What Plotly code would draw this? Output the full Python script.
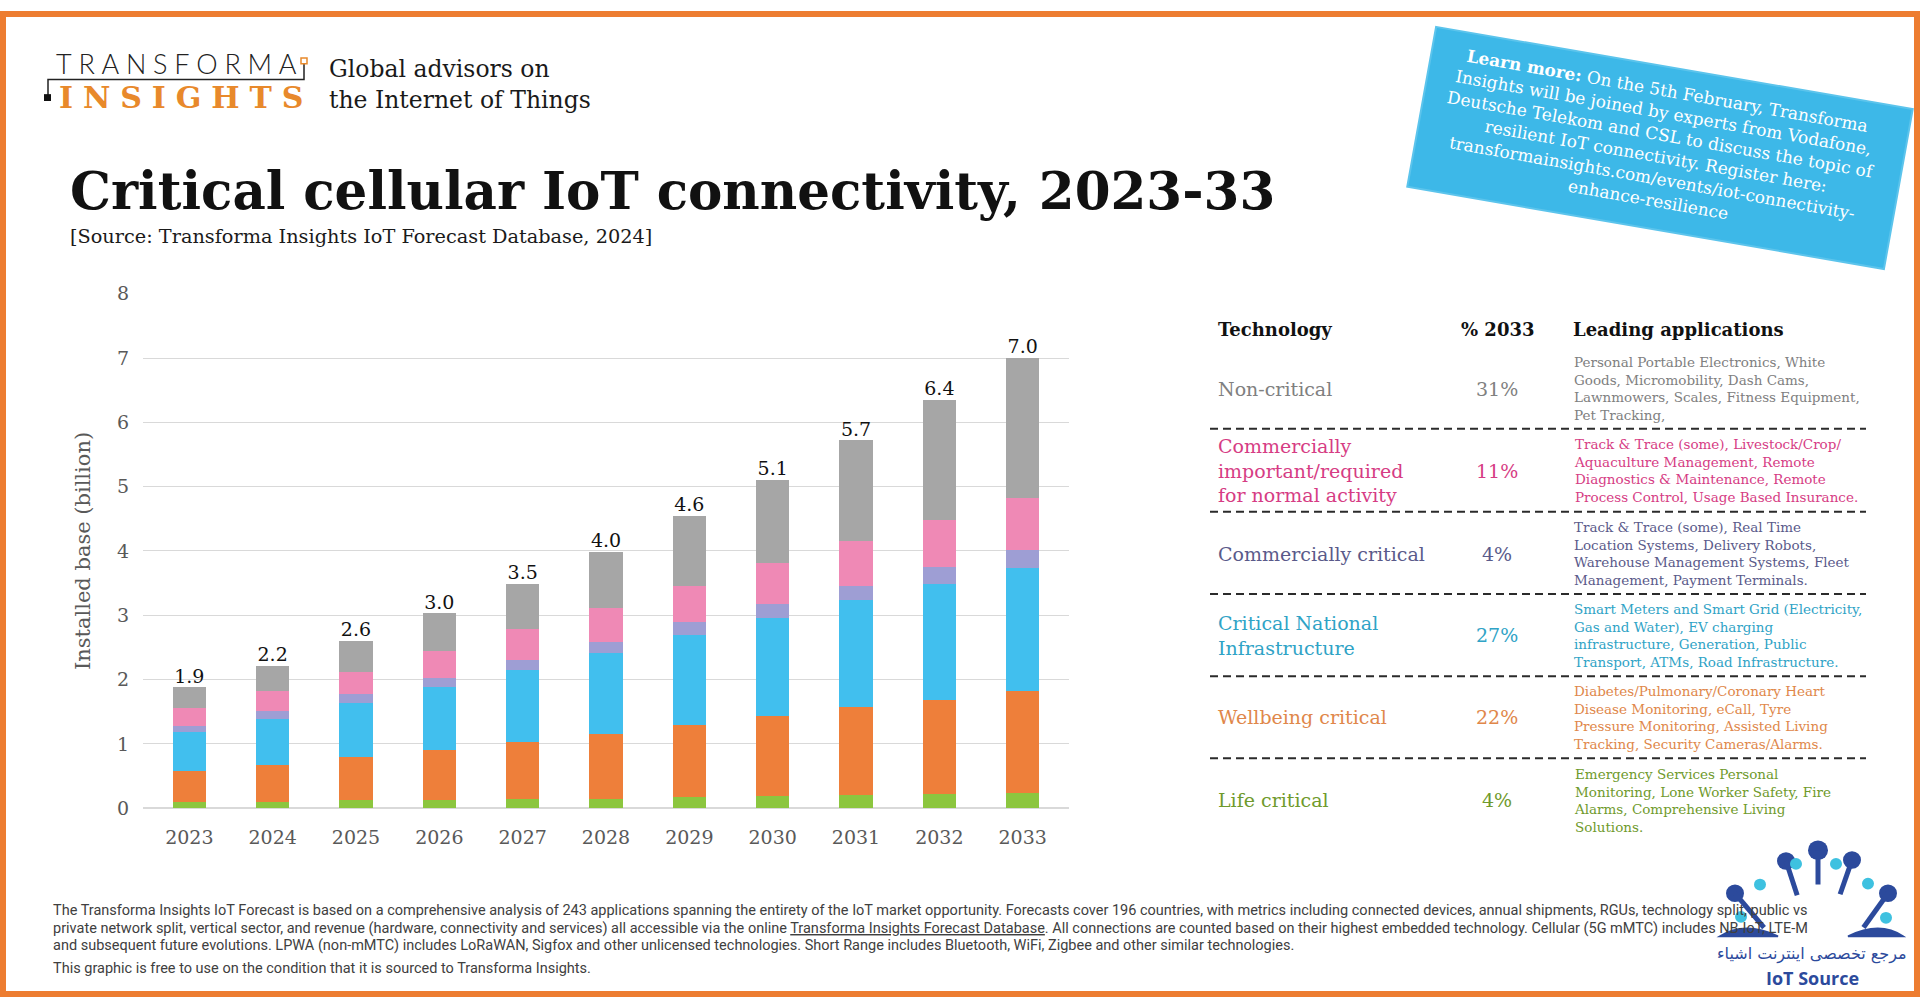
import math
import plotly.graph_objects as go

# ---------------- data ----------------
years = ["2023", "2024", "2025", "2026", "2027", "2028", "2029", "2030", "2031", "2032", "2033"]
life_critical = [0.09, 0.10, 0.12, 0.13, 0.14, 0.15, 0.17, 0.19, 0.20, 0.22, 0.24]
wellbeing_critical = [0.49, 0.57, 0.67, 0.78, 0.89, 1.01, 1.12, 1.24, 1.37, 1.47, 1.58]
critical_national_infra = [0.60, 0.72, 0.85, 0.98, 1.12, 1.26, 1.40, 1.53, 1.66, 1.80, 1.91]
commercially_critical = [0.10, 0.12, 0.13, 0.14, 0.16, 0.17, 0.20, 0.22, 0.23, 0.26, 0.28]
commercially_important = [0.28, 0.32, 0.35, 0.41, 0.47, 0.52, 0.57, 0.63, 0.69, 0.73, 0.81]
non_critical = [0.32, 0.38, 0.48, 0.59, 0.71, 0.88, 1.09, 1.30, 1.57, 1.87, 2.18]
total_labels = ["1.9", "2.2", "2.6", "3.0", "3.5", "4.0", "4.6", "5.1", "5.7", "6.4", "7.0"]
y_ticks = [0, 1, 2, 3, 4, 5, 6, 7, 8]

table_tech = ["Non-critical", "Commercially<br>important/required<br>for normal activity",
              "Commercially critical", "Critical National<br>Infrastructure",
              "Wellbeing critical", "Life critical"]
table_pct = ["31%", "11%", "4%", "27%", "22%", "4%"]
table_apps = [
    "Personal Portable Electronics, White<br>Goods, Micromobility, Dash Cams,<br>Lawnmowers, Scales, Fitness Equipment,<br>Pet Tracking,",
    "Track &amp; Trace (some), Livestock/Crop/<br>Aquaculture Management, Remote<br>Diagnostics &amp; Maintenance, Remote<br>Process Control, Usage Based Insurance.",
    "Track &amp; Trace (some), Real Time<br>Location Systems, Delivery Robots,<br>Warehouse Management Systems, Fleet<br>Management, Payment Terminals.",
    "Smart Meters and Smart Grid (Electricity,<br>Gas and Water), EV charging<br>infrastructure, Generation, Public<br>Transport, ATMs, Road Infrastructure.",
    "Diabetes/Pulmonary/Coronary Heart<br>Disease Monitoring, eCall, Tyre<br>Pressure Monitoring, Assisted Living<br>Tracking, Security Cameras/Alarms.",
    "Emergency Services Personal<br>Monitoring, Lone Worker Safety, Fire<br>Alarms, Comprehensive Living<br>Solutions.",
]

# ---------------- styling ----------------
W, H = 1920, 1008
def X(p): return p / W
def Y(p): return 1 - p / H

SERIF = "DejaVu Serif"
ORANGE_BORDER = "#ED7D31"
series = [
    ("Life critical", life_critical, "#8CC63F"),
    ("Wellbeing critical", wellbeing_critical, "#EE7F3A"),
    ("Critical National Infrastructure", critical_national_infra, "#41BFEE"),
    ("Commercially critical", commercially_critical, "#9E9ED4"),
    ("Commercially important", commercially_important, "#EF89B5"),
    ("Non-critical", non_critical, "#A6A6A6"),
]
text_colors = ["#808080", "#D63C84", "#5A5A8A", "#2FA3C6", "#E0874A", "#6F9A2C"]

fig = go.Figure()
for name, vals, col in series:
    fig.add_trace(go.Bar(x=years, y=vals, name=name, marker=dict(color=col, line=dict(width=0)),
                         hoverinfo="skip"))

stack_tops = [sum(v) for v in zip(*[s[1] for s in series])]
fig.add_trace(go.Scatter(x=years, y=stack_tops, mode="text", text=total_labels,
                         textposition="top center",
                         textfont=dict(family=SERIF, size=19, color="#111111"),
                         hoverinfo="skip", showlegend=False))

fig.update_layout(
    width=W, height=H,
    margin=dict(l=0, r=0, t=0, b=0),
    paper_bgcolor="white", plot_bgcolor="white",
    barmode="stack", bargap=0.6, showlegend=False,
    xaxis=dict(domain=[X(143), X(1069)], tickfont=dict(family=SERIF, size=19, color="#595959"),
               showgrid=False, showline=False, ticks="", ticklabelstandoff=16),
    yaxis=dict(domain=[Y(815), Y(289)], range=[0, 8], tickvals=y_ticks,
               tickfont=dict(family=SERIF, size=19, color="#595959"),
               gridcolor="#D9D9D9", gridwidth=1, zeroline=True, zerolinecolor="#D9D9D9",
               showline=False, ticks="", ticklabelstandoff=13,
               title=dict(text="Installed base (billion)", standoff=20,
                          font=dict(family=SERIF, size=21, color="#595959"))),
)

shapes = []
annots = []

# Orange frame
bw = 6
shapes.append(dict(type="rect", xref="paper", yref="paper", x0=X(bw/2), x1=X(W - bw/2),
                   y0=Y(H - bw/2), y1=Y(bw/2), line=dict(color=ORANGE_BORDER, width=bw),
                   fillcolor="rgba(0,0,0,0)"))

# Logo top-left
annots.append(dict(x=X(54), y=Y(54), xref="paper", yref="paper", xanchor="left", yanchor="middle",
                   text="\u2005".join("TRANSFORMA"), showarrow=False,
                   font=dict(family="Lato", size=27, color="#222222", weight=300)))
annots.append(dict(x=X(57), y=Y(88), xref="paper", yref="paper", xanchor="left", yanchor="middle",
                   text="<b>" + "\u2004".join("INSIGHTS") + "</b>", showarrow=False,
                   font=dict(family=SERIF, size=30, color="#E8892B")))
shapes.append(dict(type="path", xref="paper", yref="paper",
                   path=f"M {X(48)},{Y(86)} L {X(48)},{Y(70)} L {X(304)},{Y(70)} L {X(304)},{Y(54)}",
                   line=dict(color="#222222", width=1.5)))
shapes.append(dict(type="rect", xref="paper", yref="paper", x0=X(44), x1=X(51), y0=Y(92), y1=Y(85),
                   fillcolor="#111111", line=dict(width=0)))
shapes.append(dict(type="rect", xref="paper", yref="paper", x0=X(301), x1=X(307), y0=Y(54), y1=Y(48),
                   fillcolor="white", line=dict(color="#E8892B", width=1.5)))
annots.append(dict(x=X(327), y=Y(75), xref="paper", yref="paper", xanchor="left", yanchor="middle",
                   text="Global advisors on<br>the Internet of Things", showarrow=False, align="left",
                   font=dict(family=SERIF, size=23.5, color="#1a1a1a")))

# Title & source
annots.append(dict(x=X(68), y=Y(184), xref="paper", yref="paper", xanchor="left", yanchor="middle",
                   text="<b>Critical cellular IoT connectivity, 2023-33</b>", showarrow=False,
                   font=dict(family=SERIF, size=51.5, color="#111111")))
annots.append(dict(x=X(68), y=Y(231), xref="paper", yref="paper", xanchor="left", yanchor="middle",
                   text="[Source: Transforma Insights IoT Forecast Database, 2024]", showarrow=False,
                   font=dict(family=SERIF, size=19.3, color="#1a1a1a")))

# Rotated blue callout box
cx, cy, hw, hh, ang = 1660, 140, 242, 83, math.radians(10)
ux, uy = math.cos(ang), math.sin(ang)
vx, vy = -math.sin(ang), math.cos(ang)
corners = [(cx - hw*ux - hh*vx, cy - hw*uy - hh*vy), (cx + hw*ux - hh*vx, cy + hw*uy - hh*vy),
           (cx + hw*ux + hh*vx, cy + hw*uy + hh*vy), (cx - hw*ux + hh*vx, cy - hw*uy + hh*vy)]
path = "M " + " L ".join(f"{X(px)},{Y(py)}" for px, py in corners) + " Z"
shapes.append(dict(type="path", xref="paper", yref="paper", path=path,
                   fillcolor="#3DB8E8", line=dict(color="#5CC4EC", width=2)))
annots.append(dict(x=X(cx - 2), y=Y(cy - 2), xref="paper", yref="paper", xanchor="center", yanchor="middle",
                   textangle=10, showarrow=False, align="center",
                   text=("<b>Learn more:</b> On the 5th February, Transforma<br>"
                         "Insights will be joined by experts from Vodafone,<br>"
                         "Deutsche Telekom and CSL to discuss the topic of<br>"
                         "resilient IoT connectivity. Register here:<br>"
                         "transformainsights.com/events/iot-connectivity-<br>"
                         "enhance-resilience"),
                   font=dict(family=SERIF, size=17, color="white")))

# Table
hdr_font = dict(family=SERIF, size=18, color="#111111")
annots.append(dict(x=X(1216), y=Y(326), xref="paper", yref="paper", xanchor="left", yanchor="middle",
                   text="<b>Technology</b>", showarrow=False, font=hdr_font))
annots.append(dict(x=X(1497), y=Y(326), xref="paper", yref="paper", xanchor="center", yanchor="middle",
                   text="<b>% 2033</b>", showarrow=False, font=hdr_font))
annots.append(dict(x=X(1571), y=Y(326), xref="paper", yref="paper", xanchor="left", yanchor="middle",
                   text="<b>Leading applications</b>", showarrow=False, font=hdr_font))
row_centers = [386, 470, 555, 638, 722, 807]
for i, yc in enumerate(row_centers):
    col = text_colors[i]
    annots.append(dict(x=X(1216), y=Y(yc), xref="paper", yref="paper", xanchor="left", yanchor="middle",
                       text=table_tech[i], showarrow=False, align="left",
                       font=dict(family=SERIF, size=19, color=col)))
    annots.append(dict(x=X(1497), y=Y(yc), xref="paper", yref="paper", xanchor="center", yanchor="middle",
                       text=table_pct[i], showarrow=False,
                       font=dict(family=SERIF, size=19, color=col)))
    annots.append(dict(x=X(1572), y=Y(yc), xref="paper", yref="paper", xanchor="left", yanchor="middle",
                       text=table_apps[i], showarrow=False, align="left",
                       font=dict(family=SERIF, size=13.5, color=col)))
for ys in [427, 512, 596, 680, 764]:
    shapes.append(dict(type="line", xref="paper", yref="paper", x0=X(1210), x1=X(1866), y0=Y(ys), y1=Y(ys),
                       line=dict(color="#2b2b2b", width=2, dash="8px,5px")))

# Footer
foot_font = dict(family="Roboto", size=14.5, color="#404040")
foot_lines = [
    "The Transforma Insights IoT Forecast is based on a comprehensive analysis of 243 applications spanning the entirety of the IoT market opportunity. Forecasts cover 196 countries, with metrics including connected devices, annual shipments, RGUs, technology split, public vs",
    "private network split, vertical sector, and revenue (hardware, connectivity and services) all accessible via the online <u>Transforma Insights Forecast Database</u>. All connections are counted based on their highest embedded technology. Cellular (5G mMTC) includes NB-IoT, LTE-M",
    "and subsequent future evolutions. LPWA (non-mMTC) includes LoRaWAN, Sigfox and other unlicensed technologies. Short Range includes Bluetooth, WiFi, Zigbee and other similar technologies.",
    "This graphic is free to use on the condition that it is sourced to Transforma Insights.",
]
for txt, yy in zip(foot_lines, [920, 938, 955, 979]):
    annots.append(dict(x=X(51), y=Y(yy), xref="paper", yref="paper", xanchor="left", yanchor="middle",
                       text=txt, showarrow=False, font=foot_font))

# IoT Source logo (bottom right)
DARK = "#2C4A9C"
CYAN = "#3EC1E0"
dark_dots = [(1735, 902, 9), (1786, 869, 9), (1818, 858, 10), (1852, 868, 9), (1888, 902, 9)]
cyan_dots = [(1741, 926, 6), (1760, 893, 6), (1796, 872, 6), (1836, 872, 6), (1868, 892, 6), (1886, 927, 6)]
for (px, py, r) in dark_dots:
    shapes.append(dict(type="circle", xref="paper", yref="paper", x0=X(px - r), x1=X(px + r),
                       y0=Y(py + r), y1=Y(py - r), fillcolor=DARK, line=dict(width=0)))
    shapes.append(dict(type="line", xref="paper", yref="paper", x0=X(px), y0=Y(py),
                       x1=X(px + (1818 - px) * 0.35), y1=Y(py + 35),
                       line=dict(color=DARK, width=5)))
for (px, py, r) in cyan_dots:
    shapes.append(dict(type="circle", xref="paper", yref="paper", x0=X(px - r), x1=X(px + r),
                       y0=Y(py + r), y1=Y(py - r), fillcolor=CYAN, line=dict(width=0)))
shapes.append(dict(type="path", xref="paper", yref="paper",
                   path=f"M {X(1720)},{Y(946)} Q {X(1745)},{Y(930)} {X(1778)},{Y(946)} Z",
                   fillcolor=DARK, line=dict(color=DARK, width=2)))
shapes.append(dict(type="path", xref="paper", yref="paper",
                   path=f"M {X(1848)},{Y(946)} Q {X(1880)},{Y(930)} {X(1903)},{Y(946)} Z",
                   fillcolor=DARK, line=dict(color=DARK, width=2)))
annots.append(dict(x=X(1812), y=Y(964), xref="paper", yref="paper", xanchor="center", yanchor="middle",
                   text="مرجع تخصصی اینترنت اشیاء", showarrow=False,
                   font=dict(family="DejaVu Sans", size=16, color=DARK)))
annots.append(dict(x=X(1812), y=Y(989), xref="paper", yref="paper", xanchor="center", yanchor="middle",
                   text="<b>IoT Source</b>", showarrow=False,
                   font=dict(family="Open Sans", size=18, color=DARK)))

fig.update_layout(shapes=shapes, annotations=annots)
fig.write_html("out.html")
